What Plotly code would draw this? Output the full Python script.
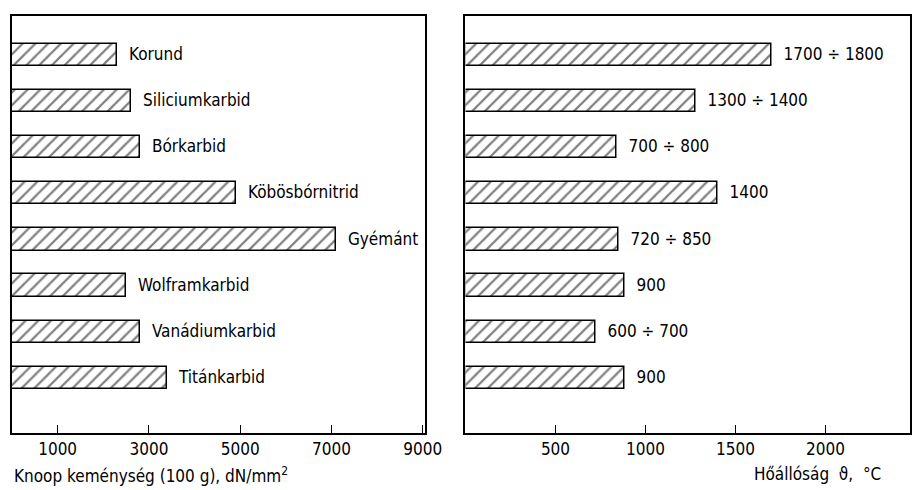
import plotly.graph_objects as go

materials = ["Korund", "Siliciumkarbid", "Bórkarbid", "Köbösbórnitrid",
             "Gyémánt", "Wolframkarbid", "Vanádiumkarbid", "Titánkarbid"]
knoop = [2300, 2600, 2800, 4900, 7100, 2500, 2800, 3400]
heat = [1700, 1280, 840, 1400, 850, 885, 720, 885]
heat_labels = ["1700 ÷ 1800", "1300 ÷ 1400", "700 ÷ 800", "1400",
               "720 ÷ 850", "900", "600 ÷ 700", "900"]
pos = list(range(len(materials)))

font = dict(family="DejaVu Sans Condensed, DejaVu Sans", size=17, color="black")
marker = dict(color="white", line=dict(color="black", width=1.5),
              pattern=dict(shape="/", fgcolor="black", size=9, solidity=0.25))

fig = go.Figure()
fig.add_trace(go.Bar(x=knoop, y=pos, orientation="h", marker=marker, width=0.48,
                     text=["  " + m for m in materials], textposition="outside",
                     textfont=font, cliponaxis=False, xaxis="x", yaxis="y"))
fig.add_trace(go.Bar(x=heat, y=pos, orientation="h", marker=marker, width=0.48,
                     text=["  " + h for h in heat_labels], textposition="outside",
                     textfont=font, cliponaxis=False, xaxis="x2", yaxis="y2"))

ax = dict(showgrid=False, zeroline=False, showline=True, mirror=True,
          linecolor="black", linewidth=1.5, ticks="inside", ticklen=8,
          tickcolor="black", tickfont=font)
yax = dict(showgrid=False, zeroline=False, showline=True, mirror=True,
           linecolor="black", linewidth=1.5, showticklabels=False,
           range=[8.2, -0.85])

fig.update_layout(
    width=923, height=490, showlegend=False, plot_bgcolor="white",
    paper_bgcolor="white", margin=dict(l=4, r=5, t=8, b=65), bargap=0,
    xaxis=dict(ax, domain=[0, 0.46], range=[0, 9050],
               tickvals=[1000, 3000, 5000, 7000, 9000]),
    yaxis=yax,
    xaxis2=dict(ax, domain=[0.505, 1], range=[0, 2470],
                tickvals=[500, 1000, 1500, 2000]),
    yaxis2=dict(yax, anchor="x2"),
    annotations=[
        dict(text="Knoop keménység (100 g), dN/mm<sup>2</sup>", xref="paper",
             yref="paper", x=0.0, y=-0.07, xanchor="left", yanchor="top",
             showarrow=False, font=font),
        dict(text="Hőállóság  ϑ,  °C", xref="paper", yref="paper", x=0.97,
             y=-0.07, xanchor="right", yanchor="top", showarrow=False,
             font=font),
    ],
)
fig.write_html("out.html")
